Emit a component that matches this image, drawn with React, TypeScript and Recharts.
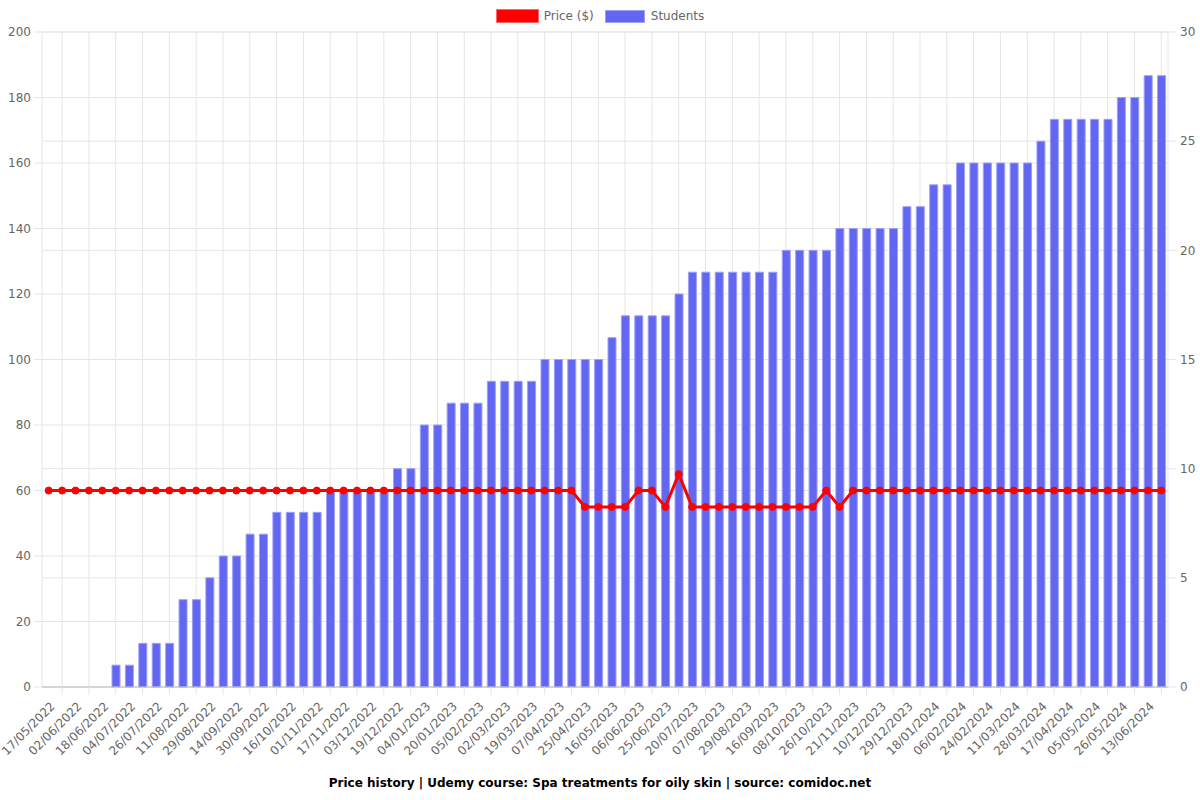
import React from 'react';
import {
  ComposedChart,
  Bar,
  Line,
  XAxis,
  YAxis,
  CartesianGrid,
} from 'recharts';

const dates: string[] = [
  '17/05/2022', '25/05/2022', '02/06/2022', '10/06/2022', '18/06/2022', '26/06/2022',
  '04/07/2022', '15/07/2022', '26/07/2022', '03/08/2022', '11/08/2022', '20/08/2022',
  '29/08/2022', '06/09/2022', '14/09/2022', '22/09/2022', '30/09/2022', '08/10/2022',
  '16/10/2022', '24/10/2022', '01/11/2022', '09/11/2022', '17/11/2022', '25/11/2022',
  '03/12/2022', '11/12/2022', '19/12/2022', '27/12/2022', '04/01/2023', '12/01/2023',
  '20/01/2023', '28/01/2023', '05/02/2023', '17/02/2023', '02/03/2023', '10/03/2023',
  '19/03/2023', '28/03/2023', '07/04/2023', '16/04/2023', '25/04/2023', '05/05/2023',
  '16/05/2023', '27/05/2023', '06/06/2023', '15/06/2023', '25/06/2023', '07/07/2023',
  '20/07/2023', '29/07/2023', '07/08/2023', '18/08/2023', '29/08/2023', '07/09/2023',
  '16/09/2023', '27/09/2023', '08/10/2023', '17/10/2023', '26/10/2023', '08/11/2023',
  '21/11/2023', '30/11/2023', '10/12/2023', '19/12/2023', '29/12/2023', '08/01/2024',
  '18/01/2024', '27/01/2024', '06/02/2024', '15/02/2024', '24/02/2024', '02/03/2024',
  '11/03/2024', '19/03/2024', '28/03/2024', '07/04/2024', '17/04/2024', '26/04/2024',
  '05/05/2024', '15/05/2024', '26/05/2024', '04/06/2024', '13/06/2024', '22/06/2024',
];

const prices: number[] = [
  59.99, 59.99, 59.99, 59.99, 59.99, 59.99, 59.99, 59.99, 59.99, 59.99,
  59.99, 59.99, 59.99, 59.99, 59.99, 59.99, 59.99, 59.99, 59.99, 59.99,
  59.99, 59.99, 59.99, 59.99, 59.99, 59.99, 59.99, 59.99, 59.99, 59.99,
  59.99, 59.99, 59.99, 59.99, 59.99, 59.99, 59.99, 59.99, 59.99, 59.99,
  54.99, 54.99, 54.99, 54.99, 59.99, 59.99, 54.99, 64.99, 54.99, 54.99,
  54.99, 54.99, 54.99, 54.99, 54.99, 54.99, 54.99, 54.99, 59.99, 54.99,
  59.99, 59.99, 59.99, 59.99, 59.99, 59.99, 59.99, 59.99, 59.99, 59.99,
  59.99, 59.99, 59.99, 59.99, 59.99, 59.99, 59.99, 59.99, 59.99, 59.99,
  59.99, 59.99, 59.99, 59.99,
];

const students: number[] = [
  0, 0, 0, 0, 0, 1, 1, 2, 2, 2,
  4, 4, 5, 6, 6, 7, 7, 8, 8, 8,
  8, 9, 9, 9, 9, 9, 10, 10, 12, 12,
  13, 13, 13, 14, 14, 14, 14, 15, 15, 15,
  15, 15, 16, 17, 17, 17, 17, 18, 19, 19,
  19, 19, 19, 19, 19, 20, 20, 20, 20, 21,
  21, 21, 21, 21, 22, 22, 23, 23, 24, 24,
  24, 24, 24, 24, 25, 26, 26, 26, 26, 26,
  27, 27, 28, 28,
];

const priceTicks: number[] = [0, 20, 40, 60, 80, 100, 120, 140, 160, 180, 200];
const studentTicks: number[] = [0, 5, 10, 15, 20, 25, 30];

const data = dates.map((d, i) => ({ date: d, price: prices[i], students: students[i] }));

const FONT = "'DejaVu Sans', sans-serif";
const GRID = '#e5e5e5';

const XTick = (props: any) => {
  const { x, y, payload } = props;
  const i = dates.indexOf(payload.value);
  if (i % 2 === 1) {
    return <line x1={x} x2={x} y1={y} y2={y + 8} stroke={GRID} />;
  }
  const ax = x + 7;
  const ay = y + 20;
  return (
    <text
      x={ax}
      y={ay}
      transform={`rotate(-45, ${ax}, ${ay})`}
      textAnchor="end"
      fill="#666"
      fontSize={12}
      fontFamily={FONT}
    >
      {payload.value}
    </text>
  );
};

// vertical grid lines at the centre of every odd category band, from the chart's plot offset
const gridX = (props: any) => {
  const off = props?.offset;
  if (!off) return [];
  const band = off.width / dates.length;
  return dates
    .map((_, i) => i)
    .filter((i) => i % 2 === 1)
    .map((i) => off.left + band * (i + 0.5));
};

export default function App() {
  return (
    <div style={{ position: 'absolute', left: 0, top: 0, width: 1200, height: 800, background: '#fff' }}>
      <div
        style={{
          position: 'absolute',
          top: 9,
          left: 0,
          width: 1200,
          display: 'flex',
          justifyContent: 'center',
          alignItems: 'center',
          fontFamily: FONT,
          fontSize: 12,
          color: '#666',
          height: 14,
        }}
      >
        <div style={{ width: 41, height: 12, background: '#ff0000', border: '1px solid #ff6666', marginRight: 5 }} />
        <span style={{ marginRight: 11 }}>Price ($)</span>
        <div style={{ width: 38, height: 11, background: '#6366f1', border: '1px solid #9ea0f6', marginRight: 6 }} />
        <span>Students</span>
      </div>
      <ComposedChart
        width={1200}
        height={800}
        data={data}
        margin={{ top: 32, right: 0, bottom: 0, left: 0 }}
      >
        <CartesianGrid
          yAxisId="left"
          stroke={GRID}
          verticalCoordinatesGenerator={gridX}
        />
        <CartesianGrid yAxisId="right" stroke={GRID} vertical={false} />
        <XAxis
          dataKey="date"
          interval={0}
          tick={<XTick />}
          tickLine={false}
          tickSize={0}
          tickMargin={0}
          height={113}
          axisLine={{ stroke: '#bdbdbd' }}
        />
        <YAxis
          yAxisId="left"
          orientation="left"
          width={42}
          domain={[0, 200]}
          ticks={priceTicks}
          interval={0}
          tickSize={8}
          tickMargin={3}
          tickLine={{ stroke: GRID }}
          axisLine={{ stroke: GRID }}
          tick={{ fill: '#666', fontSize: 12, fontFamily: FONT }}
        />
        <YAxis
          yAxisId="right"
          orientation="right"
          width={32}
          domain={[0, 30]}
          ticks={studentTicks}
          interval={0}
          tickSize={8}
          tickMargin={4}
          tickLine={{ stroke: GRID }}
          axisLine={{ stroke: GRID }}
          tick={{ fill: '#666', fontSize: 12, fontFamily: FONT }}
        />
        <Bar
          yAxisId="right"
          dataKey="students"
          name="Students"
          fill="#6366f1"
          stroke="#9ea0f6"
          strokeWidth={1}
          barSize={8}
          isAnimationActive={false}
        />
        <Line
          yAxisId="left"
          type="linear"
          dataKey="price"
          name="Price ($)"
          stroke="#ff0000"
          strokeWidth={3}
          dot={{ r: 3.5, fill: '#ff0000', stroke: '#ff0000', strokeWidth: 1 }}
          activeDot={false}
          isAnimationActive={false}
        />
      </ComposedChart>
      <div
        style={{
          position: 'absolute',
          top: 775,
          left: 0,
          width: 1200,
          textAlign: 'center',
          fontFamily: FONT,
          fontSize: 12,
          fontWeight: 'bold',
          color: '#000',
          lineHeight: '16px',
        }}
      >
        Price history | Udemy course: Spa treatments for oily skin | source: comidoc.net
      </div>
    </div>
  );
}
